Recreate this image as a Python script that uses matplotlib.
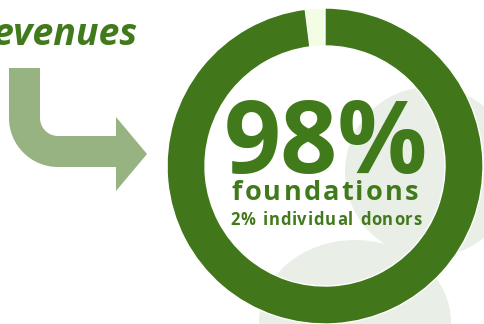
import matplotlib
matplotlib.use("Agg")
import matplotlib.pyplot as plt
from matplotlib.patches import Circle, Ellipse, PathPatch
from matplotlib.path import Path

# data
shares = [2, 98]            # individual donors, foundations
share_labels = ["individual donors", "foundations"]
share_colors = ["#f3fde3", "#41771a"]
headline = "98%"
main_label = "foundations"
sub_label = "2% individual donors"
title = "revenues"

W, H = 485, 324
GREEN = "#417a1b"
FONT = ["Open Sans", "DejaVu Sans"]

fig = plt.figure(figsize=(W / 100, H / 100), dpi=100)
ax = fig.add_axes([0, 0, 1, 1])


def Y(y_img):
    # image rows (from top) -> axis y (from bottom)
    return H - y_img


# faint silhouette in the background
ax.add_patch(Circle((430, Y(172)), 85, color="#e9eee6", zorder=1, lw=0))
ax.add_patch(Ellipse((355, Y(322)), 192, 164, color="#e9eee6", zorder=1, lw=0))

# arrow
cx, cy = 58, 118
k = 0.5523
verts = [(9, 68), (40, 68), (40, cy),
         (40, cy + 18 * k), (cx - 18 * k, cy + 18), (cx, cy + 18),
         (116, cy + 18), (116, 117), (147, 154), (116, 191), (116, cy + 49),
         (cx, cy + 49),
         (cx - 49 * k, cy + 49), (9, cy + 49 * k), (9, cy),
         (9, 68)]
codes = [Path.MOVETO, Path.LINETO, Path.LINETO,
         Path.CURVE4, Path.CURVE4, Path.CURVE4,
         Path.LINETO, Path.LINETO, Path.LINETO, Path.LINETO, Path.LINETO,
         Path.LINETO,
         Path.CURVE4, Path.CURVE4, Path.CURVE4,
         Path.CLOSEPOLY]
verts = [(x, Y(y)) for x, y in verts]
ax.add_patch(PathPatch(Path(verts, codes), facecolor="#97b381", lw=0, zorder=2))

# donut
ax.pie(shares, colors=share_colors, startangle=90, counterclock=True,
       center=(325, Y(166)), radius=158, frame=True,
       wedgeprops=dict(width=38, edgecolor="white", linewidth=1, zorder=3))
ax.set_xlim(0, W)
ax.set_ylim(0, H)
ax.set_aspect("equal")
ax.axis("off")

fig.canvas.draw()
renderer = fig.canvas.get_renderer()


def spaced_text(x_center, y, s, spacing, **kw):
    # matplotlib has no letter-spacing, so place the glyphs one by one
    widths = []
    for ch in s:
        t = ax.text(0, 0, ch if ch != " " else "n", **kw)
        w = t.get_window_extent(renderer).width
        widths.append(w * 0.5 if ch == " " else w)
        t.remove()
    total = sum(widths) + spacing * (len(s) - 1)
    x = x_center - total / 2
    for ch, w in zip(s, widths):
        if ch != " ":
            ax.text(x, y, ch, ha="left", va="baseline", **kw)
        x += w + spacing


style = dict(color=GREEN, fontweight="bold", family=FONT, zorder=5)
ax.text(326, Y(173), headline, ha="center", va="baseline", fontsize=72, **style)
spaced_text(325, Y(200), main_label, 2.2, fontsize=19.5, **style)
spaced_text(326, Y(225), sub_label, 0.8, fontsize=12, **style)

ax.text(137, Y(45), title, ha="right", va="baseline", fontsize=27,
        fontstyle="italic", **style)

fig.savefig("out.png", dpi=100)
